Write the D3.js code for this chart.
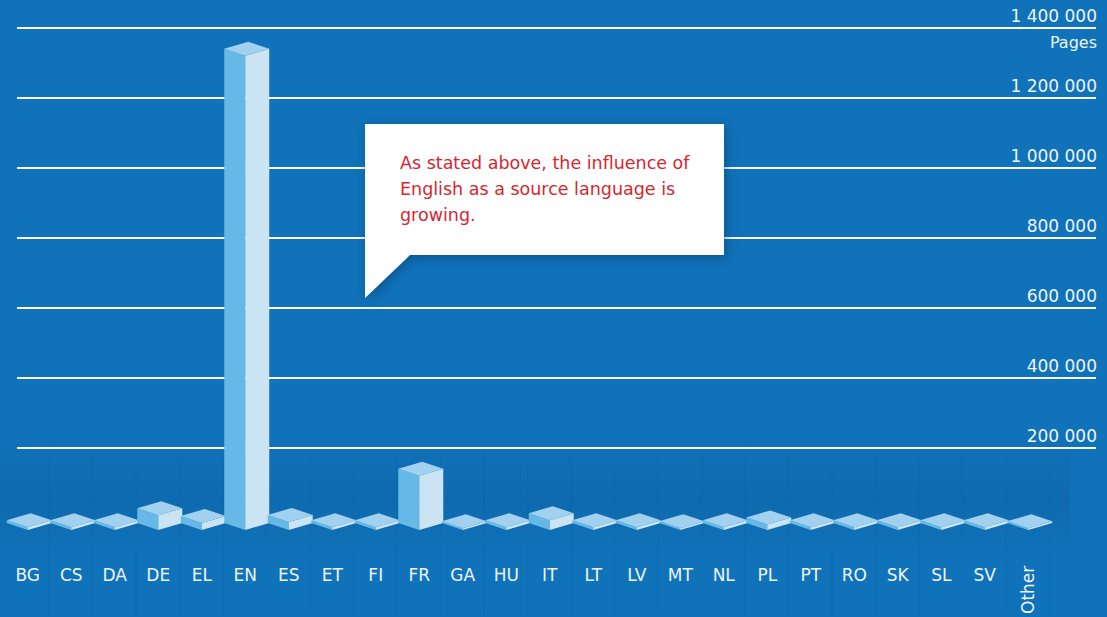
<!DOCTYPE html>
<html><head><meta charset="utf-8">
<script src="https://cdn.jsdelivr.net/npm/d3@7"></script>
<style>
html,body{margin:0;padding:0;background:#1072b9;}
svg{display:block;}
</style></head>
<body>
<svg id="chart" width="1107" height="617"></svg>
<script>
const categories = ["BG","CS","DA","DE","EL","EN","ES","ET","FI","FR","GA","HU","IT","LT","LV","MT","NL","PL","PT","RO","SK","SL","SV","Other"];
const pages = [8000,8000,8000,42000,20000,1355000,23000,8000,8000,155000,5000,8000,28000,8000,8000,5000,8000,16000,8000,8000,8000,8000,8000,5000];
const tickValues = [200000,400000,600000,800000,1000000,1200000,1400000];
const tickLabels = ["200 000","400 000","600 000","800 000","1 000 000","1 200 000","1 400 000"];
const unitLabel = "Pages";
const calloutLines = ["As stated above, the influence of","English as a source language is","growing."];

const svg = d3.select("#chart");
const W = 1107, H = 617;
const font = "'DejaVu Sans', sans-serif";

const defs = svg.append("defs");
const band = defs.append("linearGradient").attr("id","band").attr("x1",0).attr("y1",0).attr("x2",0).attr("y2",1);
band.append("stop").attr("offset","0%").attr("stop-color","#0a4f8a").attr("stop-opacity",0);
band.append("stop").attr("offset","55%").attr("stop-color","#0a4f8a").attr("stop-opacity",0.22);
band.append("stop").attr("offset","100%").attr("stop-color","#0a4f8a").attr("stop-opacity",0);
const shadow = defs.append("filter").attr("id","shadow").attr("x","-20%").attr("y","-20%").attr("width","140%").attr("height","150%");
shadow.append("feDropShadow").attr("dx",2).attr("dy",3).attr("stdDeviation",6).attr("flood-color","#06345e").attr("flood-opacity",0.5);

svg.append("rect").attr("width",W).attr("height",H).attr("fill","#1072b9");
svg.append("rect").attr("x",0).attr("y",435).attr("width",1070).attr("height",120).attr("fill","url(#band)");

// scales
const x = d3.scaleBand().domain(categories).range([6, 6 + 43.5*categories.length]).paddingInner(0).paddingOuter(0);
const yGrid = d3.scaleLinear().domain([0,1400000]).range([518, 28]);
const yBar = d3.scaleLinear().domain([0,1400000]).range([530, 40]);

// faint vertical stripes
svg.append("g").selectAll("rect").data(categories).join("rect")
  .attr("x", d => x(d) + x.bandwidth() - 1)
  .attr("y", 445).attr("width", 1).attr("height", 170)
  .attr("fill", "#0a5796").attr("opacity", 0.15);

// grid + labels
const gAxis = svg.append("g");
gAxis.selectAll("line").data(tickValues).join("line")
  .attr("x1",17).attr("x2",1096)
  .attr("y1",d=>yGrid(d)).attr("y2",d=>yGrid(d))
  .attr("stroke","#ffffff").attr("stroke-width",2);
gAxis.selectAll("text.tick").data(tickValues).join("text").attr("class","tick")
  .attr("x",1097).attr("y",d=>yGrid(d)-6)
  .attr("text-anchor","end").attr("fill","#eef4fa")
  .attr("font-family",font).attr("font-size",17)
  .text((d,i)=>tickLabels[i]);
gAxis.append("text").attr("x",1097).attr("y",yGrid(1400000)+20)
  .attr("text-anchor","end").attr("fill","#eef4fa")
  .attr("font-family",font).attr("font-size",16).text(unitLabel);

// bars (3D boxes)
const L = [-21,-7], R = [24,-7], B = [3,-14];
const data = categories.map((c,i)=>({c, v:pages[i]}));
const gBars = svg.append("g");
data.forEach(d => {
  const cx = x(d.c) + x.bandwidth()/2;
  const yb = yBar(0), yt = yBar(d.v);
  const g = gBars.append("g");
  const pt = (p)=>p.join(",");
  g.append("polygon").attr("points", [
    [cx+L[0], yt+L[1]], [cx, yt], [cx, yb], [cx+L[0], yb+L[1]]
  ].map(pt).join(" ")).attr("fill","#66b9e7");
  g.append("polygon").attr("points", [
    [cx, yt], [cx+R[0], yt+R[1]], [cx+R[0], yb+R[1]], [cx, yb]
  ].map(pt).join(" ")).attr("fill","#cae4f4");
  g.append("polygon").attr("points", [
    [cx, yt], [cx+L[0], yt+L[1]], [cx+B[0], yt+B[1]], [cx+R[0], yt+R[1]]
  ].map(pt).join(" ")).attr("fill","#a2d1ef");
});

// category labels
const gx = svg.append("g");
gx.selectAll("text").data(categories).join("text")
  .attr("fill","#eef4fa").attr("font-family",font).attr("font-size",17)
  .attr("text-anchor", d => d==="Other" ? "start" : "middle")
  .attr("transform", d => {
    const cx = x(d) + x.bandwidth()/2;
    return d==="Other" ? `translate(${cx+6},${614}) rotate(-90)` : `translate(${cx},${581})`;
  })
  .text(d=>d);

// callout
const co = svg.append("g");
co.append("path")
  .attr("d","M365,124 L724,124 L724,255 L410,255 L365,298 Z")
  .attr("fill","#ffffff").attr("filter","url(#shadow)");
co.selectAll("text").data(calloutLines).join("text")
  .attr("x",400).attr("y",(d,i)=>169 + i*26)
  .attr("fill","#d7262f").attr("font-family",font).attr("font-size",17.5)
  .text(d=>d);
</script>
</body></html>
